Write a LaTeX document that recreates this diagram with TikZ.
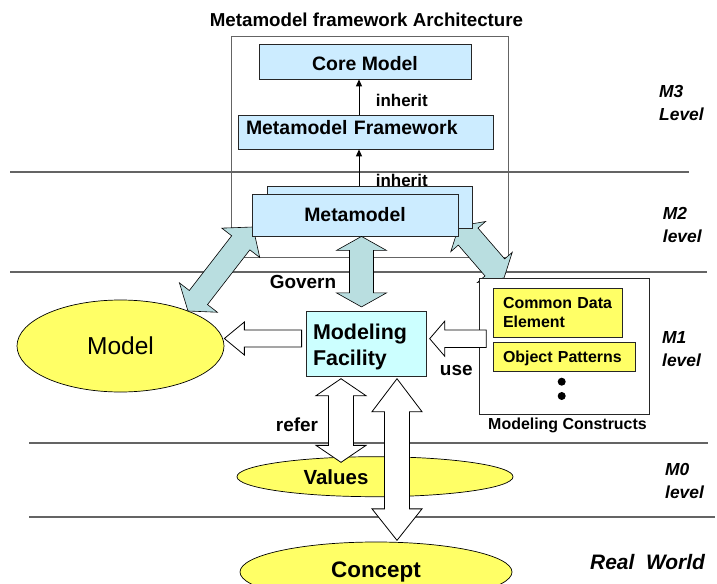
\documentclass[tikz,border=0pt]{standalone}
\usepackage{fontspec}
\setmainfont{Liberation Sans}
\usetikzlibrary{calc,shapes.geometric,arrows.meta}
\definecolor{tealfill}{RGB}{185,222,224}
\definecolor{boxblue}{RGB}{204,236,255}
\definecolor{facil}{RGB}{204,255,255}
\definecolor{yel}{RGB}{255,255,102}
\definecolor{lin}{RGB}{100,100,100}
% double block arrow: style, end A, end B, shaft half width, head half width, head length at A, head length at B
\newcommand\dblblock[7]{%
  \draw[#1] (#2) -- ($(#2)!#6!(#3)!#5!90:(#3)$) -- ($(#2)!#6!(#3)!#4!90:(#3)$)
    -- ($(#3)!#7!(#2)!#4!-90:(#2)$) -- ($(#3)!#7!(#2)!#5!-90:(#2)$) -- (#3)
    -- ($(#3)!#7!(#2)!#5!90:(#2)$) -- ($(#3)!#7!(#2)!#4!90:(#2)$)
    -- ($(#2)!#6!(#3)!#4!-90:(#3)$) -- ($(#2)!#6!(#3)!#5!-90:(#3)$) -- cycle;}
% single block arrow: style, tail, tip, shaft half width, head half width, head length
\newcommand\oneblock[6]{%
  \draw[#1] ($(#2)!#4!90:(#3)$) -- ($(#3)!#6!(#2)!#4!-90:(#2)$) -- ($(#3)!#6!(#2)!#5!-90:(#2)$)
    -- (#3) -- ($(#3)!#6!(#2)!#5!90:(#2)$) -- ($(#3)!#6!(#2)!#4!90:(#2)$)
    -- ($(#2)!#4!-90:(#3)$) -- cycle;}
\begin{document}
\begin{tikzpicture}[x=1bp,y=-1bp,
  hline/.style={draw=lin, line width=1.2bp},
  mbox/.style={draw=black!85, line width=0.8bp, fill=boxblue, inner sep=0pt, font=\bfseries\fontsize{19.5}{23}\selectfont},
  yelbox/.style={draw=black!85, line width=0.8bp, fill=yel, inner sep=0pt, font=\bfseries\fontsize{16}{19}\selectfont},
  oval/.style={ellipse, draw=black, line width=0.7bp, fill=yel, inner sep=0pt},
  lbl/.style={anchor=base, inner sep=0pt, font=\bfseries\fontsize{19}{23}\selectfont},
  lvl/.style={anchor=north west, align=left, inner sep=0pt, font=\bfseries\itshape\fontsize{17.5}{23}\selectfont},
  inh/.style={draw=black, line width=1bp, -{Triangle[length=7bp,width=6bp]}},
  tealarrow/.style={fill=tealfill, draw=black, line width=0.6bp},
  whitearrow/.style={fill=white, draw=black, line width=0.8bp}]
\useasboundingbox (0,0) rectangle (717,584);

% title and framework frame
\node[anchor=base, inner sep=0pt, font=\bfseries\fontsize{18.8}{22}\selectfont] (title) at (366.5,26.7) {Metamodel framework Architecture};
\node[draw=lin, line width=1bp, minimum width=277bp, minimum height=220bp, inner sep=0pt] (frame) at (369.5,147) {};

% level separators
\draw[hline] (10,172) -- (689,172);
\draw[hline] (10,272) -- (707,272);
\draw[hline] (29,443) -- (708,443);
\draw[hline] (29,517) -- (715,517);

% level labels
\node[lvl] (m3) at (659,85.2) {M3\\Level};
\node[lvl] (m2) at (662.7,207.4) {M2\\level};
\node[lvl] (m1) at (662,331.4) {M1\\level};
\node[lvl] (m0) at (665,463) {M0\\level};
\node[anchor=base west, inner sep=0pt, font=\bfseries\itshape\fontsize{21}{25}\selectfont] (rw) at (590,569) {Real~~World};

% M3 boxes
\node[mbox, minimum width=212bp, minimum height=35bp, text height=18.4bp, text depth=0bp] (core) at (365,61.5) {Core Model};
\node[mbox, minimum width=255bp, minimum height=34bp, text width=239bp, align=left, text height=14.5bp, text depth=9.5bp] (mf) at (365.5,132) {Metamodel Framework};
\node[anchor=base west, inner sep=0pt, font=\bfseries\fontsize{17}{20}\selectfont] (inh1) at (375.7,107) {inherit};
\node[anchor=base west, inner sep=0pt, font=\bfseries\fontsize{17}{20}\selectfont] (inh2) at (375.7,187) {inherit};

% lower nodes
\node[oval, minimum width=207bp, minimum height=92bp, font=\fontsize{24.6}{29}\selectfont] (model) at (120.5,346) {Model};
\node[oval, minimum width=276bp, minimum height=40bp,
      label={[font=\bfseries\fontsize{20.5}{24}\selectfont, inner sep=0pt, xshift=-39bp]center:Values}] (values) at (375,476.7) {};
\node[oval, minimum width=272bp, minimum height=60bp, font=\bfseries\fontsize{22.5}{27}\selectfont] (concept) at (376,572) {Concept};

% teal block arrows (drawn under the metamodel boxes)
\coordinate (la) at (253,227);
\coordinate (lb) at (188,311);
\coordinate (ra) at (459,226);
\coordinate (rb) at (504,278);
\dblblock{tealarrow}{la}{lb}{11.5bp}{24bp}{20bp}{17bp}
\dblblock{tealarrow}{ra}{rb}{13bp}{23bp}{14bp}{14bp}

% metamodel
\node[mbox, minimum width=205bp, minimum height=42bp] (mmback) at (369.5,207) {};
\node[mbox, minimum width=206bp, minimum height=42bp] (mm) at (355,215) {Metamodel};

% inherit arrows
\coordinate (ix) at (359,0);
\draw[inh] (mf.north -| ix) -- (core.south -| ix);
\draw[inh] (mmback.north -| ix) -- (mf.south -| ix);

% modeling facility and constructs
\node[draw=black!85, line width=0.8bp, fill=facil, minimum width=120bp, minimum height=65bp, text width=106bp, inner xsep=7bp, inner ysep=0pt, align=left, font=\bfseries\fontsize{21.5}{27}\selectfont] (facility) at (366,343.5) {\rule{0pt}{22.5bp}Modeling\\Facility};
\node[draw=black!85, line width=0.8bp, fill=white, minimum width=170bp, minimum height=136bp, inner sep=0pt] (constructs) at (564,346) {};
\node[yelbox, minimum width=129bp, minimum height=49bp, text width=109bp, align=left] (cde) at (557.5,312.5) {Common Data\\Element};
\node[yelbox, minimum width=142bp, minimum height=29bp, text width=122bp, align=left, text depth=0bp] (op) at (564,356.5) {Object Patterns};
\node[circle, fill=black, inner sep=0pt, minimum size=8bp] (dot1) at (561.7,381.7) {};
\node[circle, fill=black, inner sep=0pt, minimum size=8bp] (dot2) at (561.7,396) {};
\node[anchor=base, inner sep=0pt, font=\bfseries\fontsize{16}{19}\selectfont] (mclabel) at (567.5,429) {Modeling Constructs};

% Govern arrow
\coordinate (gx) at (361.5,0);
\coordinate (ga) at (mm.south -| gx);
\coordinate (gb) at ($(facility.north -| gx)+(0,-3.7)$);
\dblblock{tealarrow}{ga}{gb}{12bp}{25bp}{14bp}{14bp}

% white block arrows
\coordinate (wa) at ($(facility.west)+(-4,-5)$);
\coordinate (wb) at ($(model.east)+(0,-7.5)$);
\oneblock{whitearrow}{wa}{wb}{8.5bp}{16.5bp}{20bp}
\coordinate (ua) at ($(constructs.west)+(7.7,-7.3)$);
\coordinate (ub) at ($(facility.east)+(3.3,-4.8)$);
\oneblock{whitearrow}{ua}{ub}{8.7bp}{17.5bp}{15bp}
\coordinate (rx) at (341,0);
\coordinate (fa) at ($(facility.south -| rx)+(0,2.3)$);
\coordinate (fb) at ($(values.north -| rx)+(0,6)$);
\dblblock{whitearrow}{fa}{fb}{12.5bp}{25bp}{17bp}{17bp}
\coordinate (cx) at (397,0);
\coordinate (ca) at ($(facility.south -| cx)+(0,2.3)$);
\coordinate (cb) at ($(concept.north -| cx)+(0,-1.3)$);
\dblblock{whitearrow}{ca}{cb}{12.5bp}{25bp}{33bp}{31.5bp}

% arrow labels
\node[lbl] (govern) at (303,288.3) {Govern};
\node[lbl] (use) at (456.3,375) {use};
\node[lbl] (refer) at (297,431.7) {refer};
\end{tikzpicture}
\end{document}
